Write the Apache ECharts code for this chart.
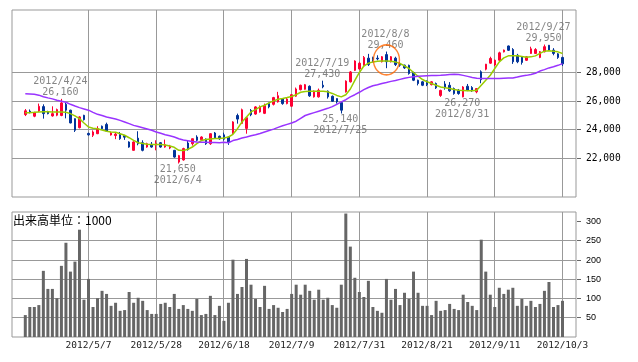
<!DOCTYPE html>
<html><head><meta charset="utf-8">
<script src="https://cdn.jsdelivr.net/npm/echarts@6/dist/echarts.min.js"></script>
<style>html,body{margin:0;padding:0;background:#fff}#c{width:638px;height:362px}</style>
</head><body><div id="c"></div>
<script>
const dates = ['2012/4/12','2012/4/13','2012/4/16','2012/4/17','2012/4/18','2012/4/19','2012/4/20','2012/4/23','2012/4/24','2012/4/25',
'2012/4/26','2012/4/27','2012/5/1','2012/5/2','2012/5/7','2012/5/8','2012/5/9','2012/5/10','2012/5/11','2012/5/14',
'2012/5/15','2012/5/16','2012/5/17','2012/5/18','2012/5/21','2012/5/22','2012/5/23','2012/5/24','2012/5/25','2012/5/28',
'2012/5/29','2012/5/30','2012/5/31','2012/6/1','2012/6/4','2012/6/5','2012/6/6','2012/6/7','2012/6/8','2012/6/11',
'2012/6/12','2012/6/13','2012/6/14','2012/6/15','2012/6/18','2012/6/19','2012/6/20','2012/6/21','2012/6/22','2012/6/25',
'2012/6/26','2012/6/27','2012/6/28','2012/6/29','2012/7/2','2012/7/3','2012/7/4','2012/7/5','2012/7/6','2012/7/9',
'2012/7/10','2012/7/11','2012/7/12','2012/7/13','2012/7/17','2012/7/18','2012/7/19','2012/7/20','2012/7/23','2012/7/24',
'2012/7/25','2012/7/26','2012/7/27','2012/7/30','2012/7/31','2012/8/1','2012/8/2','2012/8/3','2012/8/6','2012/8/7',
'2012/8/8','2012/8/9','2012/8/10','2012/8/13','2012/8/14','2012/8/15','2012/8/16','2012/8/17','2012/8/20','2012/8/21',
'2012/8/22','2012/8/23','2012/8/24','2012/8/27','2012/8/28','2012/8/29','2012/8/30','2012/8/31','2012/9/3','2012/9/4',
'2012/9/5','2012/9/6','2012/9/7','2012/9/10','2012/9/11','2012/9/12','2012/9/13','2012/9/14','2012/9/18','2012/9/19',
'2012/9/20','2012/9/21','2012/9/24','2012/9/25','2012/9/26','2012/9/27','2012/9/28','2012/10/1','2012/10/2','2012/10/3'];

const openP = [25060,25300,24950,25320,25620,25250,24970,25020,25000,25780,
25370,24780,24150,25010,23750,23620,23730,24250,24380,23640,
23600,23680,23600,23150,22570,23420,23100,22800,22990,22950,
23100,22800,22730,22570,21750,21900,23080,23030,23500,23310,
23360,23030,23780,23550,23650,23500,23740,25000,24450,24100,
25350,25100,25250,25150,25830,25780,25950,26150,25830,25650,
26350,26800,26830,27040,26300,26300,27110,26700,26340,26180,
25900,26650,27350,28150,28250,28500,29000,29050,29000,28750,
29250,28750,29000,28630,28510,28500,28000,27460,27350,27400,
27150,27230,26400,27200,27110,26880,26760,26300,27040,26950,
26650,28050,28230,28650,28520,28860,29440,29850,29600,29200,
29100,28850,29330,29330,29050,29450,29900,29560,29300,29050];
const closeP = [25330,25230,25200,25640,25130,25130,25130,25410,25880,25370,
24480,23970,24900,24710,23650,23850,24080,24080,23920,23780,
23700,23380,23490,22800,23150,23030,22570,23030,22800,23050,
22800,22960,22870,22100,22200,22690,22620,23380,23270,23500,
23030,23730,23430,23380,23350,23150,24550,24750,25400,24850,
25050,25600,25600,25700,25600,26250,26380,25830,26150,26450,
26850,27110,27150,26370,26700,26760,27000,26300,25990,25950,
25370,27400,28040,28800,28650,29050,28550,28900,28950,29100,
28750,29100,28550,28510,28320,27930,27460,27230,27110,27150,
27350,26930,26750,26950,26720,26530,26530,26990,26760,26720,
26880,27500,28580,28980,28860,29370,29560,29550,28750,28750,
28700,29090,29650,29600,29450,29800,29560,29330,29050,28600];
const lowP = [24960,25150,24880,25250,24780,25080,24920,24950,24950,24800,
24450,23850,24100,24650,23600,23500,23700,24000,23850,23600,
23350,23300,23300,22750,22550,22920,22500,22750,22750,22570,
22750,22750,22650,22050,21650,21850,22550,22900,23200,23250,
22950,22950,23400,23300,23250,22950,23700,24430,24400,23730,
24950,25050,25200,25100,25500,25700,25900,25750,25780,25600,
26300,26750,26800,26300,26250,26250,26900,26180,25950,25830,
25140,26600,27300,28100,28200,28450,28450,28700,28850,28700,
28300,28700,28450,28400,28250,27850,27400,27100,27050,27050,
27100,26850,26300,26800,26650,26450,26450,26270,26700,26650,
26550,27250,28150,28600,28450,28800,29400,29500,28600,28650,
28550,28800,29300,29300,29000,29400,29500,29200,28950,28450];
const highP = [25450,25420,25260,25830,25780,25330,25640,25480,26160,25900,
25400,24800,24950,25050,23800,23960,24250,24300,24500,23850,
23850,23850,23650,23200,23200,23900,23270,23100,23150,23270,
23150,23320,22950,22600,22250,22750,23270,23390,23620,23550,
23400,23760,23850,23600,23800,23550,24600,25130,25480,24900,
25450,25650,25700,25830,25900,26300,26650,26200,26250,26500,
26950,27150,27200,27100,26750,26880,27430,26750,26400,26200,
25950,27450,28100,28850,28750,29150,29300,29100,29200,29150,
29460,29150,29100,28700,28550,28550,28050,27500,27400,27450,
27400,27300,26800,27400,27330,26950,26850,27050,27200,27050,
26900,28150,28600,29100,28900,29450,29600,29880,29700,29300,
29150,29150,29800,29700,29500,29950,29920,29700,29350,29100];

const volume = [57,78,78,83,172,125,125,101,185,245,
170,196,279,97,151,78,101,120,112,81,
89,68,70,117,89,102,94,70,60,60,
86,89,78,112,73,83,73,68,99,57,
60,107,57,81,42,89,201,112,130,203,
136,99,78,133,73,83,76,65,73,112,
136,110,136,120,97,123,97,102,83,76,
136,321,235,154,117,104,146,78,68,63,
151,97,125,83,115,99,170,115,81,81,
57,94,68,70,86,73,70,110,91,81,
70,253,170,110,78,128,112,123,128,81,
99,81,94,78,86,120,143,78,83,94];

const maShort = [25200,25200,25220,25250,25270,25270,25250,25250,25250,25220,
25130,24970,24780,24480,24200,24110,24080,23990,23900,23850,
23830,23730,23620,23450,23270,23100,23040,22990,22970,22970,
22970,22940,22870,22780,22570,22550,22640,22800,23040,23250,
23320,23360,23390,23390,23430,23500,23690,24080,24550,24900,
25250,25410,25600,25715,25880,26020,26130,26180,26250,26330,
26450,26620,26680,26690,26690,26690,26690,26650,26540,26400,
26300,26450,26850,27450,28000,28450,28650,28740,28790,28810,
28810,28790,28740,28630,28460,28280,28000,27740,27510,27350,
27230,27110,26990,26930,26880,26820,26760,26740,26720,26720,
26760,27110,27460,27810,28280,28740,29020,29160,29160,29160,
29120,29070,29090,29160,29330,29490,29510,29490,29440,29330];
const maLong = [26510,26500,26480,26420,26310,26230,26160,26060,26000,25920,
25780,25660,25550,25460,25370,25220,25080,25000,24900,24830,
24760,24660,24550,24430,24310,24230,24150,24060,23970,23850,
23760,23660,23580,23500,23380,23290,23240,23180,23150,23130,
23130,23110,23110,23100,23130,23100,23250,23330,23430,23500,
23580,23660,23750,23850,23950,24050,24170,24280,24380,24480,
24600,24800,25000,25100,25200,25300,25400,25500,25620,25780,
25950,26100,26300,26450,26620,26800,26950,27080,27150,27230,
27300,27380,27440,27520,27600,27660,27710,27740,27760,27780,
27790,27790,27800,27830,27860,27880,27860,27800,27730,27650,
27600,27580,27580,27580,27580,27580,27600,27620,27620,27680,
27760,27800,27860,27950,28100,28200,28320,28400,28500,28620];

const priceTicks = [22000,24000,26000,28000];
const volumeTicks = [50,100,150,200,250,300];
const volumeGridValues = [50,100,150,200,250];
const dateTickIdx = [14,29,44,59,74,89,104,119];
const annIdx = [8,34,66,70,80,97,115];
const annKind = ['high','low','high','low','high','low','high'];
const circleIdx = 80;

function commas(n){ return String(Math.round(n)).replace(/\B(?=(\d{3})+(?!\d))/g, ','); }

const XMIN = -2.946, XMAX = 121.99;
const PMIN = 19314, PMAX = 32360;
const VMIN = 0, VMAX = 325;
const MONO = 'DejaVu Sans Mono';
const GRIDC = '#999';

const chart = echarts.init(document.getElementById('c'), null, {renderer:'canvas'});

const annData = annIdx.map((i,k)=>{
  const hi = annKind[k]==='high';
  const v = hi ? highP[i] : lowP[i];
  return {
    value:[i, v],
    label:{
      show:true,
      position: hi ? 'top' : 'bottom',
      distance: 0.5,
      offset:[-1,0],
      formatter: hi ? (dates[i] + '\n' + commas(v)) : (commas(v) + '\n' + dates[i])
    }
  };
});

const titleGraphic = {type:'text', id:'voltitle', left:13, top:214, z:200,
  style:{text:'出来高単位：1000', font:'12px "Noto Sans CJK JP"', fill:'#000'}};

const option = {
  animation:false,
  grid:[
    {left:12, width:564, top:10, height:187, show:true, borderColor:GRIDC, borderWidth:1},
    {left:12, width:564, top:212, height:125, show:true, borderColor:GRIDC, borderWidth:1}
  ],
  graphic:[titleGraphic],
  xAxis:[
    {gridIndex:0, type:'value', min:XMIN, max:XMAX,
     axisLine:{show:false}, axisTick:{show:false},
     axisLabel:{show:false}, splitLine:{show:false}},
    {gridIndex:1, type:'value', min:XMIN, max:XMAX,
     axisLine:{show:false}, axisTick:{show:false},
     axisLabel:{show:true, customValues:dateTickIdx, formatter:(v)=>dates[Math.round(v)],
       fontFamily:MONO, fontSize:9.5, color:'#222', margin:4},
     splitLine:{show:false}}
  ],
  yAxis:[
    {gridIndex:0, type:'value', position:'right', min:PMIN, max:PMAX,
     axisLine:{show:false}, axisTick:{show:false},
     axisLabel:{customValues:priceTicks, formatter:(v)=>commas(v), fontFamily:MONO, fontSize:9.6, color:'#000', margin:10},
     splitLine:{show:false}},
    {gridIndex:1, type:'value', position:'right', min:VMIN, max:VMAX,
     axisLine:{show:false}, axisTick:{show:false},
     axisLabel:{customValues:volumeTicks, fontFamily:'Liberation Sans', fontSize:9, color:'#000', margin:10},
     splitLine:{show:false}}
  ],
  series: [
    {type:'candlestick', name:'price', xAxisIndex:0, yAxisIndex:0,
     data: openP.map((o,i)=>[i, o, closeP[i], lowP[i], highP[i]]),
     barWidth:2,
     itemStyle:{color:'#ff0033', color0:'#003399', borderColor:'#ff0033', borderColor0:'#003399', borderWidth:1},
     z:110},
    {type:'line', name:'MA short', xAxisIndex:0, yAxisIndex:0,
     data: maShort.map((v,i)=>[i,v]), symbol:'none', showSymbol:false,
     lineStyle:{color:'#99cc00', width:1.5}, z:111},
    {type:'line', name:'MA long', xAxisIndex:0, yAxisIndex:0,
     data: maLong.map((v,i)=>[i,v]), symbol:'none', showSymbol:false,
     lineStyle:{color:'#9933ff', width:1.5}, z:111},
    {type:'scatter', name:'annotations', xAxisIndex:0, yAxisIndex:0,
     data: annData, symbolSize:0, silent:true,
     label:{show:true, fontFamily:MONO, fontSize:10, color:'#666', lineHeight:11, align:'center'}, z:113},
    {type:'scatter', name:'highlight', xAxisIndex:0, yAxisIndex:0,
     data:[[circleIdx, (highP[circleIdx]+lowP[circleIdx])/2]],
     symbol:'circle', symbolSize:[26,30], silent:true,
     itemStyle:{color:'rgba(0,0,0,0)', borderColor:'#ff6600', borderWidth:1.5}, z:114},
    {type:'bar', name:'volume', xAxisIndex:1, yAxisIndex:1,
     data: volume.map((v,i)=>[i,v]), barWidth:3,
     itemStyle:{color:'#666'}, z:110}
  ]
};
chart.setOption(option);

// grid lines and outward ticks, placed through the axes' own scales (1px rect strips)
const extra = [titleGraphic];
try {
  const px = (ax, v) => chart.convertToPixel({xAxisIndex:ax}, v);
  const py = (ax, v) => chart.convertToPixel({yAxisIndex:ax}, v);
  const snap = (p) => Math.round(p - 0.5);
  const hRule = (id, x1, x2, y, color) => extra.push({type:'rect', id:id, z:100, silent:true,
      shape:{x:x1, y:snap(y), width:x2-x1, height:1}, style:{fill:color}});
  const vRule = (id, x, y1, y2, color) => extra.push({type:'rect', id:id, z:100, silent:true,
      shape:{x:snap(x), y:y1, width:1, height:y2-y1}, style:{fill:color}});
  const L0 = px(0, XMIN), R0 = px(0, XMAX);
  const T0 = py(0, PMAX), B0 = py(0, PMIN);
  const T1 = py(1, VMAX), B1 = py(1, VMIN);
  priceTicks.forEach((v,k)=>{ hRule('ph'+k, L0, R0, py(0,v), GRIDC); hRule('pt'+k, R0+1, R0+5, py(0,v), '#666'); });
  volumeGridValues.forEach((v,k)=>{ hRule('vh'+k, L0, R0, py(1,v), GRIDC); });
  volumeTicks.forEach((v,k)=>{ hRule('vt'+k, R0+1, R0+5, py(1,v), '#666'); });
  dateTickIdx.forEach((i,k)=>{ vRule('pv'+k, px(0,i), T0, B0, GRIDC); vRule('vv'+k, px(1,i), T1, B1, GRIDC); });
} catch(e) {}
chart.setOption({graphic: extra});
</script>
</body></html>
